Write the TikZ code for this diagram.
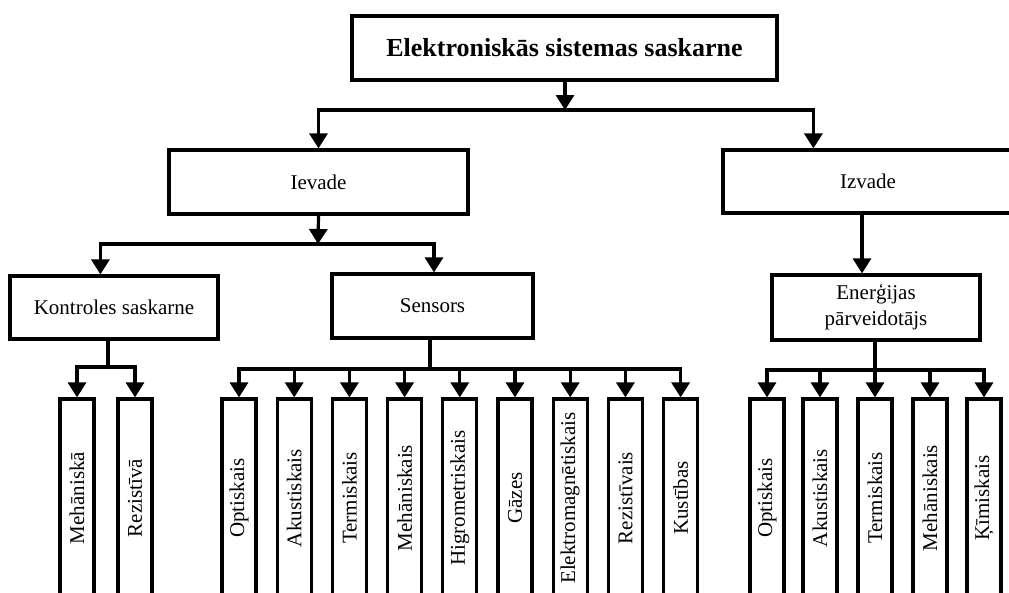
\documentclass[tikz,border=0pt]{standalone}
\usepackage{fontspec}
\setmainfont{Liberation Serif}
\usetikzlibrary{arrows.meta,calc}
\begin{document}
\begin{tikzpicture}[x=1pt,y=-1pt,
  box/.style={draw, line width=3.2pt, rectangle, inner sep=0pt, align=center,
    font=\fontsize{21}{26}\selectfont},
  vbox/.style={box, rotate=90, minimum width=198pt, minimum height=34pt},
  arr/.style={line width=3.2pt, -{Triangle[width=18pt,length=15pt]}},
  ln/.style={line width=3.2pt}]
\useasboundingbox (0,0) rectangle (1009,592);
\fill[white] (0,0) rectangle (1009,592);
\clip (0,0) rectangle (1009,592);

% main boxes
\node[box, minimum width=425pt, minimum height=64pt,
  font=\fontsize{26}{30}\selectfont\bfseries] (top) at (564.5,48) {Elektroniskās sistemas saskarne};
\node[box, minimum width=299pt, minimum height=64pt] (ievade) at (318.5,182) {Ievade};
\node[box, minimum width=290pt, minimum height=63pt] (izvade) at (868,181.5) {Izvade};
\node[box, minimum width=208pt, minimum height=63pt] (kont) at (114,307.5) {Kontroles saskarne};
\node[box, minimum width=201pt, minimum height=64pt] (sens) at (432.5,306) {Sensors};
\node[box, minimum width=208pt, minimum height=65pt] (ener) at (876,307.5) {Enerģijas\\pārveidotājs};

% kontroles children
\node[vbox] (k1) at (77,498) {Mehāniskā};
\node[vbox] (k2) at (135,498) {Rezistīvā};

% sensors children
\foreach \t [count=\i from 0] in {Optiskais,Akustiskais,Termiskais,Mehāniskais,Higrometriskais,Gāzes,Elektromagnētiskais,Rezistīvais,Kustības}{
  \node[vbox] (s\i) at ({239+55.2*\i},498) {\t};
}

% energy children
\node[vbox] (e0) at (767,498) {Optiskais};
\node[vbox] (e1) at (820,498) {Akustiskais};
\node[vbox] (e2) at (875,498) {Termiskais};
\node[vbox] (e3) at (930,498) {Mehāniskais};
\node[vbox] (e4) at (984,498) {Ķīmiskais};

% junction points
\coordinate (j1) at (565,110);
\coordinate (j2) at (318,244);
\coordinate (j3) at (108,367);
\coordinate (j4) at (430,369);
\coordinate (j5) at (875,370);

% connectors
\draw[arr] (top.south -| j1) -- (j1);
\draw[arr] (j1) -| (ievade.north);
\draw[arr] (j1) -| ($(izvade.north west)+(92,0)$);

\draw[arr] (ievade.south) -- (j2);
\draw[arr] (j2) -| ($(kont.north west)+(92,0)$);
\draw[arr] (j2) -| ($(sens.north)+(1.5,0)$);

\draw[arr] (izvade.south -| 862,0) -- (ener.north -| 862,0);

\draw[ln] (kont.south -| j3) -- (j3);
\draw[arr] (j3) -| (k1.east);
\draw[arr] (j3) -| (k2.east);

\draw[ln] (sens.south -| j4) -- (j4);
\foreach \i in {0,...,8}{
  \draw[arr] (j4) -| (s\i.east);
}

\draw[ln] (ener.south -| j5) -- (j5);
\foreach \i in {0,...,4}{
  \draw[arr] (j5) -| (e\i.east);
}
\end{tikzpicture}
\end{document}
